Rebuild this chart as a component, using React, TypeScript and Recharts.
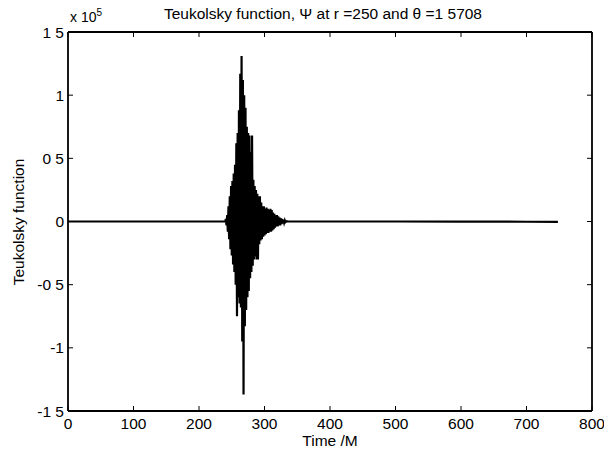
import React from "react";
import { LineChart, Line, XAxis, YAxis } from "recharts";

const burstTimes = [
  0, 120, 238, 240, 241, 242, 243, 244, 245, 246, 247, 248, 249, 250, 251, 252, 253, 254, 255,
  256, 257, 258, 259, 260, 261, 262, 263, 264, 265, 266, 267, 268, 269, 270, 271, 272,
  273, 274, 275, 276, 277, 278, 279, 280, 281, 282, 283, 284, 285, 286, 287, 288, 289,
  290, 291, 292, 293, 294, 295, 296, 297, 298, 299, 300, 301, 302, 303, 304, 305, 306,
  307, 308, 309, 310, 311, 312, 313, 314, 315, 316, 317, 318, 319, 320, 321, 322, 323,
  324, 325, 326, 327, 328, 329, 330, 331, 332, 334, 336, 400, 500, 600, 700, 748,
];

const psiValues = [
  0, 0, 0, 0, 2000, -3000, 5000, -8000, 12000, -14000, 20000, -22000, 28000, -27000, 32000, -34000, 38000, -40000, 45000,
  -50000, 62000, -75000, 70000, -60000, 88000, -65000, 117000, -68000, 131000, -95000, 112000, -137000, 100000, -83000, 90000, -70000,
  75000, -60000, 70000, -55000, 68000, -45000, 55000, -40000, 68000, -35000, 33000, -30000, 28000, -28000, 25000, -30000, 22000,
  -30000, 20000, -18000, 20000, -15000, 15000, -14000, 12000, -12000, 12000, -11000, 10000, -10000, 11000, -9000, 10000, -9000,
  9000, -8000, 10000, -8000, 9000, -7000, 7000, -6000, 6000, -5000, 5000, -4000, 5000, -4000, 4000, -3000, 3000,
  -3000, 2500, -2000, 2000, -1500, 1200, -1000, 800, -500, 300, 0, 0, 0, -100, -200, -300,
];

const xTicks = [0, 100, 200, 300, 400, 500, 600, 700, 800];
const yTicks = [-150000, -100000, -50000, 0, 50000, 100000, 150000];
const yTickLabels = ["-1 5", "-1", "-0 5", "0", "0 5", "1", "1 5"];

const titleText = "Teukolsky function, \u03A8 at r =250 and \u03B8 =1 5708";
const xLabel = "Time /M";
const yLabel = "Teukolsky function";

const data = burstTimes.map((t, i) => ({ t, v: psiValues[i] }));

const FONT = "'Liberation Sans', Arial, sans-serif";
const FS = 15.5;

const yFmt = (v: number) => {
  const i = yTicks.indexOf(v);
  return i >= 0 ? yTickLabels[i] : "";
};

const noTick = () => <g />;

export default function App() {
  return (
    <div style={{ position: "absolute", left: 0, top: 0, width: 604, height: 449, background: "#fff", fontFamily: FONT }}>
      <LineChart
        width={604}
        height={449}
        data={data}
        margin={{ top: 2, right: 2, bottom: 8, left: 8 }}
      >
        <XAxis
          xAxisId="b"
          dataKey="t"
          type="number"
          domain={[0, 800]}
          ticks={xTicks}
          orientation="bottom"
          height={30}
          tickSize={-5}
          tickMargin={12}
          stroke="#000"
          tick={{ fill: "#000", fontSize: FS, fontFamily: FONT }}
          axisLine={{ stroke: "#000", strokeWidth: 1.8 }}
          interval={0}
        />
        <XAxis
          xAxisId="top"
          dataKey="t"
          type="number"
          domain={[0, 800]}
          ticks={xTicks}
          orientation="top"
          height={30}
          tickSize={-5}
          stroke="#000"
          tick={noTick}
          axisLine={{ stroke: "#000", strokeWidth: 1.8 }}
          interval={0}
        />
        <YAxis
          yAxisId="l"
          type="number"
          domain={[-150000, 150000]}
          ticks={yTicks}
          width={60}
          tickSize={-5}
          tickMargin={9}
          stroke="#000"
          tickFormatter={yFmt}
          tick={{ fill: "#000", fontSize: FS, fontFamily: FONT }}
          axisLine={{ stroke: "#000", strokeWidth: 1.8 }}
          interval={0}
          allowDataOverflow
        />
        <YAxis
          yAxisId="r"
          orientation="right"
          type="number"
          domain={[-150000, 150000]}
          ticks={yTicks}
          width={10}
          tickSize={-5}
          stroke="#000"
          tick={noTick}
          axisLine={{ stroke: "#000", strokeWidth: 1.8 }}
          interval={0}
          allowDataOverflow
        />
        <Line
          xAxisId="b"
          yAxisId="l"
          dataKey="v"
          type="linear"
          stroke="#000"
          strokeWidth={2.2}
          dot={false}
          isAnimationActive={false}
        />
      </LineChart>
      <div style={{ position: "absolute", left: 0, width: 646, top: 5, textAlign: "center", fontSize: FS, color: "#000", whiteSpace: "nowrap" }}>
        {titleText}
      </div>
      <div style={{ position: "absolute", left: 70, top: 7, fontSize: 14, color: "#000", whiteSpace: "nowrap" }}>
        x 10<sup style={{ fontSize: 10, verticalAlign: "6px" }}>5</sup>
      </div>
      <div style={{ position: "absolute", left: 0, width: 660, top: 433, textAlign: "center", fontSize: FS, lineHeight: "16px", color: "#000", whiteSpace: "nowrap" }}>
        {xLabel}
      </div>
      <div
        style={{
          position: "absolute",
          left: 19,
          top: 222,
          fontSize: FS,
          color: "#000",
          whiteSpace: "nowrap",
          transform: "translate(-50%, -50%) rotate(-90deg)",
        }}
      >
        {yLabel}
      </div>
    </div>
  );
}
